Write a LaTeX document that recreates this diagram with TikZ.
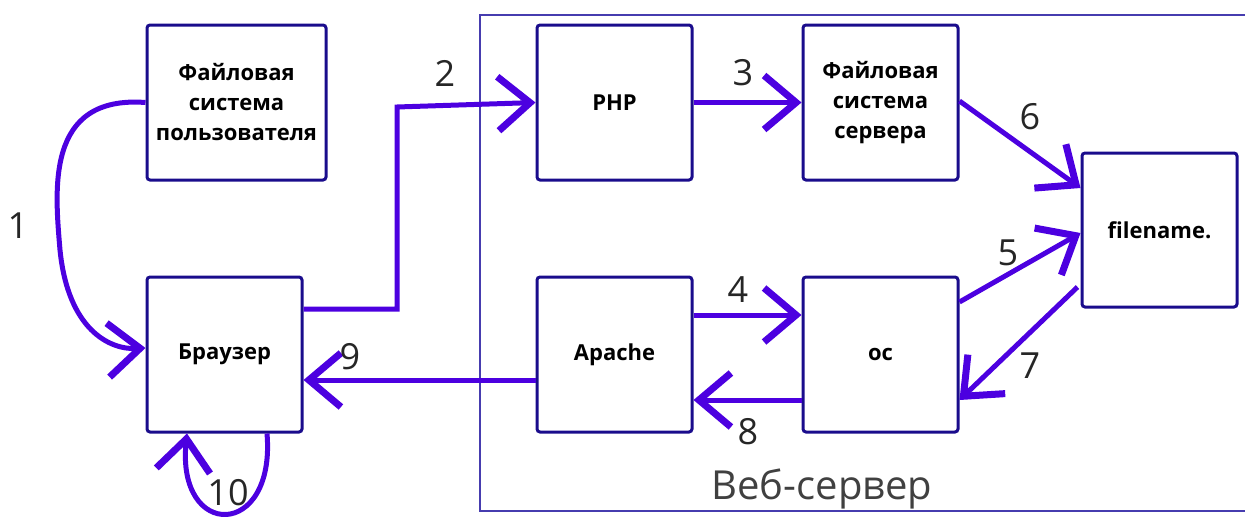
\documentclass[tikz,border=0pt]{standalone}
\usepackage{fontspec}
\setmainfont{Open Sans}
\usetikzlibrary{arrows.meta}
\definecolor{flowc}{RGB}{76,0,224}
\definecolor{edgec}{RGB}{26,12,140}
\definecolor{framec}{RGB}{70,60,175}

\begin{document}
\begin{tikzpicture}[x=1pt,y=-1pt,
  box/.style={draw=edgec,line width=3pt,rounded corners=3pt,minimum width=155pt,minimum height=155pt,
    inner sep=0pt,align=center,font=\fontsize{22}{30}\selectfont\bfseries},
  flow/.style={draw=flowc,line width=5pt,-{Straight Barb[length=32pt,width=54pt,line width=7pt]}},
  num/.style={font=\fontsize{36}{40}\selectfont,text=black!85}]
\useasboundingbox (0,0) rectangle (1245,522);
% web server frame
\draw[framec,line width=1.5pt] (1245,15) -- (480,15) -- (480,511) -- (1245,511);
\node[font=\fontsize{40}{44}\selectfont,text=black!75] (wslabel) at (822,489) {Веб-сервер};
% boxes
\node[box,minimum width=179pt] (ufs) at (236.5,102.5) {Файловая\\система\\пользователя};
\node[box] (browser) at (224.5,354.5) {Браузер};
\node[box] (php) at (614.5,102.5) {PHP};
\node[box] (apache) at (614.5,354.5) {Apache};
\node[box] (sfs) at (880.5,102.5) {Файловая\\система\\сервера};
\node[box] (os) at (880.5,354.5) {ос};
\node[box,minimum height=154pt] (fname) at (1159.5,230) {filename.};
% flows
\draw[flow] (ufs.west) .. controls (45,95) and (55,190) .. (60,250)
  .. controls (68,330) and (110,350) .. ([yshift=6.5pt]browser.west);
\draw[flow] ([yshift=45.5pt]browser.east) -- (397,309) -- (397,107) -- (php.west);
\draw[flow] (php.east) -- (sfs.west);
\draw[flow] ([yshift=39.5pt]apache.east) -- ([yshift=39.5pt]os.west);
\draw[flow] ([yshift=1.5pt]sfs.east) -- ([yshift=42pt]fname.west);
\draw[flow] ([yshift=52.5pt]os.east) -- ([yshift=-3pt]fname.west);
\draw[flow] ([xshift=-3pt,yshift=-57pt]fname.west) -- ([yshift=-45.5pt]os.east);
\draw[flow] ([yshift=-45.5pt]os.west) -- ([yshift=-45.5pt]apache.east);
\draw[flow] ([yshift=-25.5pt]apache.west) -- ([yshift=-25.5pt]browser.east);
\draw[flow] ([xshift=42.5pt]browser.south) .. controls (276,540) and (176,540) .. ([xshift=-37.5pt]browser.south);
% step numbers
\node[num] (n1) at (18,226) {1};
\node[num] (n2) at (445,73) {2};
\node[num] (n3) at (743,73) {3};
\node[num] (n4) at (738,290) {4};
\node[num] (n5) at (1008,253) {5};
\node[num] (n6) at (1030,117) {6};
\node[num] (n7) at (1030,366) {7};
\node[num] (n8) at (748,432) {8};
\node[num] (n9) at (350,357) {9};
\node[num] (n10) at (228,493) {10};
\end{tikzpicture}
\end{document}
